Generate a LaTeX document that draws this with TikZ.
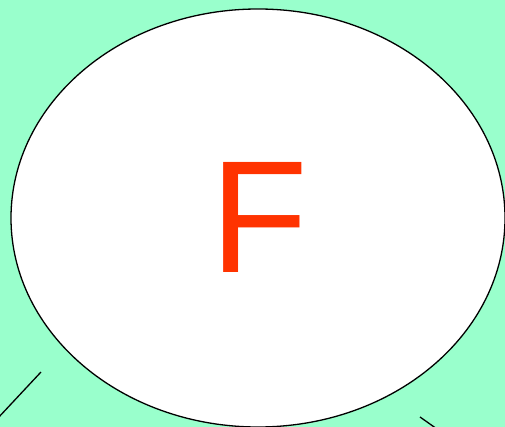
\documentclass[tikz,border=0pt]{standalone}
\usepackage{fontspec}
\setmainfont{Liberation Sans}
\definecolor{bg}{RGB}{153,255,204}
\definecolor{fred}{RGB}{255,51,0}
\begin{document}
\begin{tikzpicture}[x=1pt,y=-1pt,
  edge/.style={draw=black,line width=1.3pt},
  bubble/.style={draw=black,fill=white,line width=1.3pt}]
\fill[bg] (0,0) rectangle (505,427);
\useasboundingbox (0,0) rectangle (505,427);
\filldraw[bubble] (258,218) ellipse [x radius=247, y radius=209];
\node[inner sep=0pt,text=fred,font=\fontsize{160}{160}\selectfont] (f) at (259.5,217.5) {F};
\coordinate (a1) at (41,372);
\coordinate (a2) at (-2,418);
\draw[edge] (a1) -- (a2);
\coordinate (b1) at (420,417);
\coordinate (b2) at (437,429);
\draw[edge] (b1) -- (b2);
\end{tikzpicture}
\end{document}
